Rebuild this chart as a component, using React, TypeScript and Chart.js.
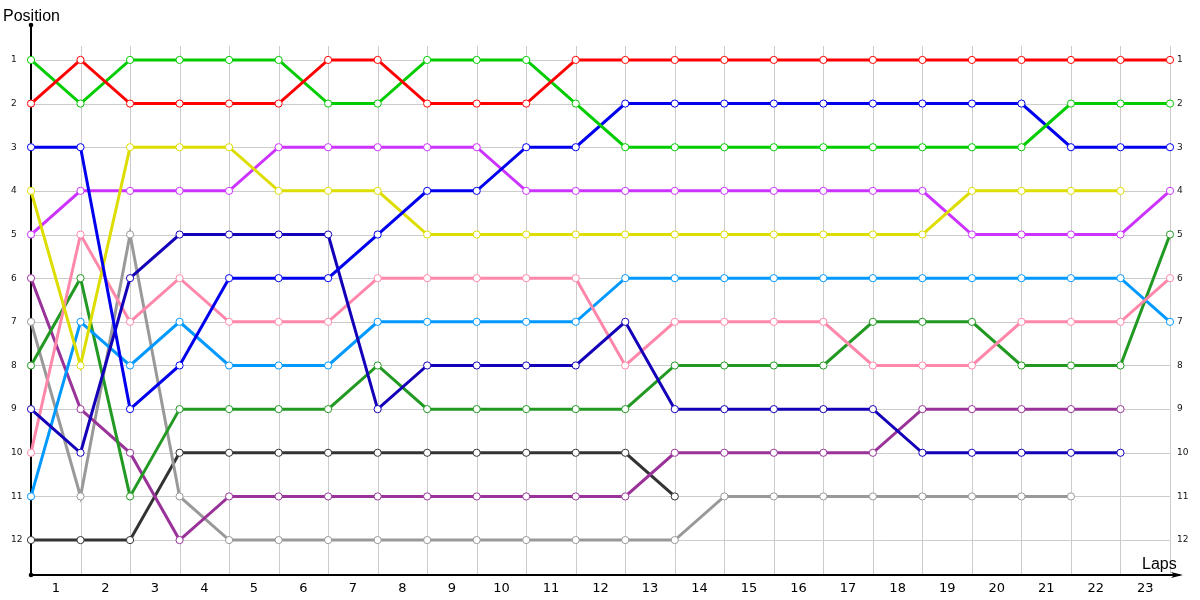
import React, { useEffect, useRef } from "react";
import { Chart, registerables } from "chart.js";

Chart.register(...registerables);

// Lap indices at which positions are recorded (0 = start grid)
const LAPS = Array.from({ length: 24 }, (_, i) => i);
// Lap tick labels shown between grid lines
const LAP_LABELS = ["1", "2", "3", "4", "5", "6", "7", "8", "9", "10", "11", "12", "13", "14", "15", "16", "17", "18", "19", "20", "21", "22", "23"];
const POSITION_TICKS = [1, 2, 3, 4, 5, 6, 7, 8, 9, 10, 11, 12];

// Positions per lap for each car (index = lap)
const RED = [2, 1, 2, 2, 2, 2, 1, 1, 2, 2, 2, 1, 1, 1, 1, 1, 1, 1, 1, 1, 1, 1, 1, 1];
const GREEN = [1, 2, 1, 1, 1, 1, 2, 2, 1, 1, 1, 2, 3, 3, 3, 3, 3, 3, 3, 3, 3, 2, 2, 2];
const BLUE = [3, 3, 9, 8, 6, 6, 6, 5, 4, 4, 3, 3, 2, 2, 2, 2, 2, 2, 2, 2, 2, 3, 3, 3];
const YELLOW = [4, 8, 3, 3, 3, 4, 4, 4, 5, 5, 5, 5, 5, 5, 5, 5, 5, 5, 5, 4, 4, 4, 4];
const MAGENTA = [5, 4, 4, 4, 4, 3, 3, 3, 3, 3, 4, 4, 4, 4, 4, 4, 4, 4, 4, 5, 5, 5, 5, 4];
const DARKBLUE = [9, 10, 6, 5, 5, 5, 5, 9, 8, 8, 8, 8, 7, 9, 9, 9, 9, 9, 10, 10, 10, 10, 10];
const PINK = [10, 5, 7, 6, 7, 7, 7, 6, 6, 6, 6, 6, 8, 7, 7, 7, 7, 8, 8, 8, 7, 7, 7, 6];
const LIGHTBLUE = [11, 7, 8, 7, 8, 8, 8, 7, 7, 7, 7, 7, 6, 6, 6, 6, 6, 6, 6, 6, 6, 6, 6, 7];
const DARKGREEN = [8, 6, 11, 9, 9, 9, 9, 8, 9, 9, 9, 9, 9, 8, 8, 8, 8, 7, 7, 7, 8, 8, 8, 5];
const PURPLE = [6, 9, 10, 12, 11, 11, 11, 11, 11, 11, 11, 11, 11, 10, 10, 10, 10, 10, 9, 9, 9, 9, 9];
const GRAY = [7, 11, 5, 11, 12, 12, 12, 12, 12, 12, 12, 12, 12, 12, 11, 11, 11, 11, 11, 11, 11, 11];
const DARKGRAY = [12, 12, 12, 10, 10, 10, 10, 10, 10, 10, 10, 10, 10, 11];

const SERIES: { name: string; values: number[]; color: string }[] = [
  { name: "Red", values: RED, color: "#ff0000" },
  { name: "Green", values: GREEN, color: "#00cc00" },
  { name: "Blue", values: BLUE, color: "#0000ee" },
  { name: "Yellow", values: YELLOW, color: "#dddd00" },
  { name: "Magenta", values: MAGENTA, color: "#cc33ff" },
  { name: "Dark blue", values: DARKBLUE, color: "#1400b8" },
  { name: "Pink", values: PINK, color: "#ff88aa" },
  { name: "Light blue", values: LIGHTBLUE, color: "#0099ff" },
  { name: "Dark green", values: DARKGREEN, color: "#229922" },
  { name: "Purple", values: PURPLE, color: "#993399" },
  { name: "Gray", values: GRAY, color: "#999999" },
  { name: "Dark gray", values: DARKGRAY, color: "#333333" },
];

const Y_MIN = 0.2;
const Y_MAX = 12.8;
const GRID_TOP = 0.68;

const decorPlugin = {
  id: "decor",
  beforeDatasetsDraw(chart: any) {
    const { ctx, chartArea, scales } = chart;
    const x = scales.x;
    const y = scales.y;
    ctx.save();
    // grid
    ctx.strokeStyle = "#cccccc";
    ctx.lineWidth = 1;
    const gTop = y.getPixelForValue(GRID_TOP);
    const left = x.getPixelForValue(LAPS[0]);
    const right = x.getPixelForValue(LAPS[LAPS.length - 1]);
    LAPS.forEach((l) => {
      const px = Math.round(x.getPixelForValue(l)) + 0.5;
      ctx.beginPath();
      ctx.moveTo(px, gTop);
      ctx.lineTo(px, chartArea.bottom);
      ctx.stroke();
    });
    POSITION_TICKS.forEach((p) => {
      const py = Math.round(y.getPixelForValue(p)) + 0.5;
      ctx.beginPath();
      ctx.moveTo(left, py);
      ctx.lineTo(right, py);
      ctx.stroke();
    });
    // axes
    ctx.strokeStyle = "#000000";
    ctx.fillStyle = "#000000";
    ctx.lineWidth = 2;
    const ax = Math.round(left);
    const top = chartArea.top;
    const bottom = chartArea.bottom;
    ctx.beginPath();
    ctx.moveTo(ax, top);
    ctx.lineTo(ax, bottom);
    ctx.stroke();
    ctx.beginPath();
    ctx.moveTo(ax, bottom);
    ctx.lineTo(right + 10, bottom);
    ctx.stroke();
    // arrow head
    ctx.beginPath();
    ctx.moveTo(right + 13, bottom);
    ctx.lineTo(right + 1, bottom - 3);
    ctx.lineTo(right + 4, bottom);
    ctx.lineTo(right + 1, bottom + 3);
    ctx.closePath();
    ctx.fill();
    // dots
    ctx.beginPath();
    ctx.arc(ax, top, 2.3, 0, Math.PI * 2);
    ctx.fill();
    ctx.beginPath();
    ctx.arc(ax, bottom, 2.3, 0, Math.PI * 2);
    ctx.fill();
    // axis titles
    ctx.font = '16px "Liberation Sans", Arial, sans-serif';
    ctx.textBaseline = "alphabetic";
    ctx.textAlign = "left";
    ctx.fillStyle = "#000000";
    ctx.fillText("Position", 3, 21);
    ctx.fillText("Laps", right - 28, 569);
    ctx.restore();
  },
};

export default function App() {
  const canvasRef = useRef<HTMLCanvasElement | null>(null);

  useEffect(() => {
    if (!canvasRef.current) return;
    const datasets = SERIES.map((s) => ({
      label: s.name,
      data: s.values.map((v, i) => ({ x: LAPS[i], y: v })),
      borderColor: s.color,
      backgroundColor: "#ffffff",
      pointBackgroundColor: "#ffffff",
      pointBorderColor: s.color,
      pointBorderWidth: 1,
      pointRadius: 3.6,
      borderWidth: 3,
      tension: 0,
      clip: false as any,
    }));

    const tickFont = { family: '"DejaVu Sans", Verdana, sans-serif', size: 9 };

    const chart = new Chart(canvasRef.current, {
      type: "line",
      data: { datasets },
      plugins: [decorPlugin],
      options: {
        animation: false,
        responsive: false,
        devicePixelRatio: 1,
        layout: { padding: { left: 11, top: 25, right: 0, bottom: 0 } },
        plugins: { legend: { display: false }, tooltip: { enabled: false } },
        scales: {
          x: {
            type: "linear",
            min: LAPS[0],
            max: LAPS[LAPS.length - 1],
            grid: { display: false, drawTicks: false },
            border: { display: false },
            afterBuildTicks: (scale: any) => {
              scale.ticks = LAP_LABELS.map((_, i) => ({ value: i + 0.5 }));
            },
            afterFit: (scale: any) => {
              scale.height = 25;
            },
            ticks: {
              autoSkip: false,
              maxRotation: 0,
              padding: 6,
              color: "#000000",
              font: { family: '"DejaVu Sans", Verdana, sans-serif', size: 13 },
              callback: (_v: any, i: number) => LAP_LABELS[i],
            },
          },
          y: {
            type: "linear",
            position: "left",
            reverse: true,
            min: Y_MIN,
            max: Y_MAX,
            grid: { display: false, drawTicks: false },
            border: { display: false },
            afterBuildTicks: (scale: any) => {
              scale.ticks = POSITION_TICKS.map((v) => ({ value: v }));
            },
            afterFit: (scale: any) => {
              scale.width = 20;
            },
            ticks: {
              crossAlign: "far",
              padding: 0,
              color: "#111111",
              font: tickFont,
              callback: (v: any) => String(v),
            },
          },
          y2: {
            type: "linear",
            position: "right",
            reverse: true,
            min: Y_MIN,
            max: Y_MAX,
            grid: { display: false, drawTicks: false },
            border: { display: false },
            afterBuildTicks: (scale: any) => {
              scale.ticks = POSITION_TICKS.map((v) => ({ value: v }));
            },
            afterFit: (scale: any) => {
              scale.width = 30;
            },
            ticks: {
              padding: 7,
              color: "#111111",
              font: tickFont,
              callback: (v: any) => String(v),
            },
          },
        },
      },
    });
    return () => chart.destroy();
  }, []);

  return (
    <div style={{ position: "absolute", left: 0, top: 0, width: 1200, height: 600, background: "#ffffff" }}>
      <canvas ref={canvasRef} width={1200} height={600} style={{ display: "block" }} />
    </div>
  );
}
